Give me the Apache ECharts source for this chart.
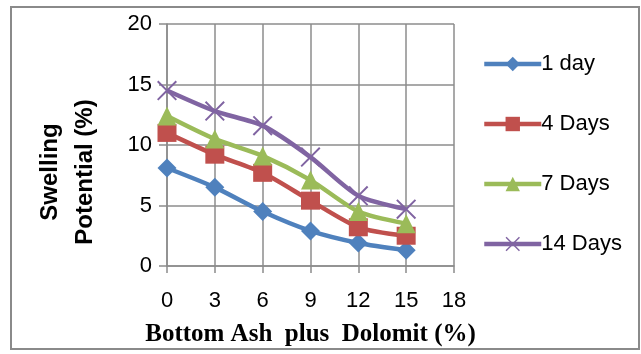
<!DOCTYPE html>
<html>
<head>
<meta charset="utf-8">
<script src="https://cdn.jsdelivr.net/npm/echarts@6/dist/echarts.min.js"></script>
<style>
html,body{margin:0;padding:0;background:#fff;}
#chart{width:641px;height:354px;}
</style>
</head>
<body>
<div id="chart"></div>
<script>
const xValues = [0, 3, 6, 9, 12, 15];
const seriesNames = ['1 day', '4 Days', '7 Days', '14 Days'];
const day1 = [8.1, 6.5, 4.5, 2.9, 1.9, 1.3];
const days4 = [11.0, 9.2, 7.7, 5.4, 3.2, 2.5];
const days7 = [12.4, 10.5, 9.1, 7.1, 4.5, 3.5];
const days14 = [14.5, 12.8, 11.6, 9.0, 5.8, 4.7];
const xTitle = 'Bottom Ash  plus  Dolomit (%)';
const yTitle = 'Swelling\nPotential (%)';

const colors = ['#4F81BD', '#C0504D', '#9BBB59', '#8064A2'];
const xSymbol = 'path://M0,0.7L0.7,0L5,4.3L9.3,0L10,0.7L5.7,5L10,9.3L9.3,10L5,5.7L0.7,10L0,9.3L4.3,5Z';
const symbols = ['diamond', 'rect', 'triangle', xSymbol];
const symbolSizes = [[19, 19], [19, 18], [19, 19], [20, 20]];
const allData = [day1, days4, days7, days14];

const chart = echarts.init(document.getElementById('chart'));
const fontSans = '"Liberation Sans", Arial, sans-serif';
const gridColor = '#8c8c8c';

chart.setOption({
  animation: false,
  backgroundColor: '#fff',
  color: colors,
  grid: { left: 167, right: 187, top: 24, bottom: 88, containLabel: false, outerBoundsMode: 'none' },
  xAxis: {
    type: 'value', min: 0, max: 18, interval: 3,
    axisLine: { show: true, lineStyle: { color: gridColor, width: 1.5 } },
    axisTick: { show: true, inside: false, length: 7, lineStyle: { color: gridColor, width: 1.5 } },
    splitLine: { show: true, lineStyle: { color: gridColor, width: 1.5 } },
    axisLabel: { color: '#000', fontFamily: fontSans, fontSize: 22, margin: 24 },
    name: xTitle, nameLocation: 'middle', nameGap: 56,
    nameTextStyle: { color: '#000', fontFamily: '"Liberation Serif", "Times New Roman", serif', fontWeight: 'bold', fontSize: 25 }
  },
  yAxis: {
    type: 'value', min: 0, max: 20, interval: 5,
    axisLine: { show: true, lineStyle: { color: gridColor, width: 1.5 } },
    axisTick: { show: true, inside: false, length: 8, lineStyle: { color: gridColor, width: 1.5 } },
    splitLine: { show: true, lineStyle: { color: gridColor, width: 1.5 } },
    axisLabel: { color: '#000', fontFamily: fontSans, fontSize: 22, margin: 15 }
  },
  legend: {
    orient: 'vertical', left: 477, top: 48,
    itemWidth: 57, itemHeight: 18, itemGap: 38,
    lineStyle: { width: 4.5 },
    textStyle: { fontFamily: fontSans, fontSize: 22, color: '#000', padding: [0, 0, 0, -5] },
    data: seriesNames
  },
  graphic: [{
    type: 'rect', silent: true, z: -1,
    shape: { x: 11, y: 7, width: 628, height: 342 },
    style: { fill: 'none', stroke: '#8a8a8a', lineWidth: 2 }
  }, {
    type: 'text', silent: true,
    x: 68, y: 172, rotation: Math.PI / 2,
    style: {
      text: yTitle, fill: '#000', font: 'bold 24px "Liberation Sans", Arial, sans-serif',
      lineHeight: 35, align: 'center', verticalAlign: 'middle'
    }
  }],
  series: allData.map((d, i) => ({
    name: seriesNames[i],
    type: 'line',
    smooth: 0.25,
    data: xValues.map((x, j) => [x, d[j]]),
    symbol: symbols[i],
    symbolSize: symbolSizes[i],
    lineStyle: { width: 4.5, color: colors[i] },
    itemStyle: { color: colors[i] },
    z: 2 + i
  }))
});
</script>
</body>
</html>
